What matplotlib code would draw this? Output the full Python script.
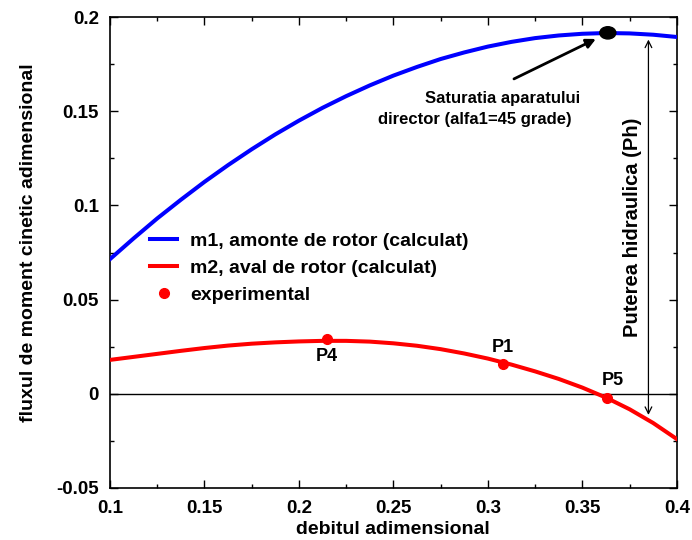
import matplotlib
matplotlib.use("Agg")
import matplotlib.pyplot as plt
from matplotlib.ticker import MultipleLocator
from matplotlib.patches import Ellipse

plt.rcParams['font.family'] = ['Liberation Sans', 'DejaVu Sans']
plt.rcParams['font.weight'] = 'bold'

# Data
x_calc = [0.1, 0.1125, 0.125, 0.1375, 0.15, 0.1625, 0.175, 0.1875, 0.2, 0.2125, 0.225, 0.2375,
          0.25, 0.2625, 0.275, 0.2875, 0.3, 0.3125, 0.325, 0.3375, 0.35, 0.3625, 0.375, 0.3875, 0.4]
m1 = [0.0715, 0.0825, 0.0931, 0.1030, 0.1125, 0.1214, 0.1298, 0.1377, 0.1450, 0.1518, 0.1580, 0.1637,
      0.1689, 0.1735, 0.1777, 0.1812, 0.1843, 0.1868, 0.1888, 0.1902, 0.1911, 0.1915, 0.1913, 0.1906, 0.1894]
m2 = [0.0180, 0.0196, 0.0212, 0.0228, 0.0243, 0.0256, 0.0266, 0.0273, 0.0278, 0.0281, 0.0281, 0.0277,
      0.0268, 0.0255, 0.0237, 0.0214, 0.0187, 0.0155, 0.0119, 0.0079, 0.0033, -0.0020, -0.0082, -0.0155, -0.0240]
x_exp = [0.215, 0.308, 0.363]
y_exp = [0.0292, 0.0159, -0.002]
exp_labels = ['P4', 'P1', 'P5']
sat_point = (0.3635, 0.1916)

fig = plt.figure(figsize=(6.92, 5.4), dpi=100)
ax = fig.add_axes([0.159, 0.0963, 0.819, 0.8722])

ax.axhline(0, color='black', lw=1, zorder=1)
ax.plot(x_calc, m1, color='#0000ff', lw=2.9, label='m1, amonte de rotor (calculat)', zorder=3)
ax.plot(x_calc, m2, color='#ff0000', lw=2.9, label='m2, aval de rotor (calculat)', zorder=3)
ax.plot(x_exp, y_exp, 'o', color='#ff0000', ms=7, label='experimental', zorder=4)

offsets = {'P4': (0, -13), 'P1': (0, 12), 'P5': (4, 12)}
for xe, ye, lab in zip(x_exp, y_exp, exp_labels):
    dx, dy = offsets[lab]
    ax.annotate(lab, (xe, ye), xytext=(dx, dy), textcoords='offset points',
                ha='center', va='center', fontsize=13, fontweight='bold')

ax.add_patch(Ellipse(sat_point, width=0.0085, height=0.0065, color='black', zorder=5))
ax.annotate('', xy=(0.3585, 0.1890), xytext=(0.3125, 0.1665),
            arrowprops=dict(arrowstyle='-|>', color='black', lw=2, mutation_scale=14), zorder=5)
ax.text(0.308, 0.1565, 'Saturatia aparatului', ha='center', va='center', fontsize=12, fontweight='bold')
ax.text(0.293, 0.1455, 'director (alfa1=45 grade)', ha='center', va='center', fontsize=12, fontweight='bold')

ax.annotate('', xy=(0.385, 0.1895), xytext=(0.385, -0.0127),
            arrowprops=dict(arrowstyle='<->', color='black', lw=0.9, mutation_scale=12))
ax.text(0.3765, 0.0886, 'Puterea hidraulica (Ph)', rotation=90, ha='center', va='center',
        fontsize=14.5, fontweight='bold')

ax.set_xlim(0.1, 0.4)
ax.set_ylim(-0.05, 0.2)
ax.xaxis.set_minor_locator(MultipleLocator(0.025))
ax.yaxis.set_minor_locator(MultipleLocator(0.025))
ax.set_xticks([0.1, 0.15, 0.2, 0.25, 0.3, 0.35, 0.4])
ax.set_xticklabels(['0.1', '0.15', '0.2', '0.25', '0.3', '0.35', '0.4'])
ax.set_yticks([-0.05, 0, 0.05, 0.1, 0.15, 0.2])
ax.set_yticklabels(['-0.05', '0', '0.05', '0.1', '0.15', '0.2'])
ax.tick_params(which='both', direction='in', top=True, right=True, labelsize=13.5)
ax.tick_params(axis='x', which='major', pad=8.5)
ax.tick_params(axis='y', which='major', pad=8)
ax.tick_params(which='major', length=6, width=1)
ax.tick_params(which='minor', length=3, width=1)
for lab in ax.get_xticklabels() + ax.get_yticklabels():
    lab.set_fontweight('bold')
for s in ax.spines.values():
    s.set_linewidth(1.2)

ax.set_xlabel('debitul adimensional', fontsize=14, fontweight='bold')
ax.set_ylabel('fluxul de moment cinetic adimensional', fontsize=14, fontweight='bold')
ax.xaxis.set_label_coords(0.499, -0.071)
ax.yaxis.set_label_coords(-0.129, 0.52)

leg = ax.legend(loc='upper left', bbox_to_anchor=(0.057, 0.56), frameon=False, fontsize=14,
                handlelength=1.4, handletextpad=0.67, labelspacing=0.5, borderaxespad=0)
for t in leg.get_texts():
    t.set_fontweight('bold')

fig.savefig('out.png', dpi=100)
